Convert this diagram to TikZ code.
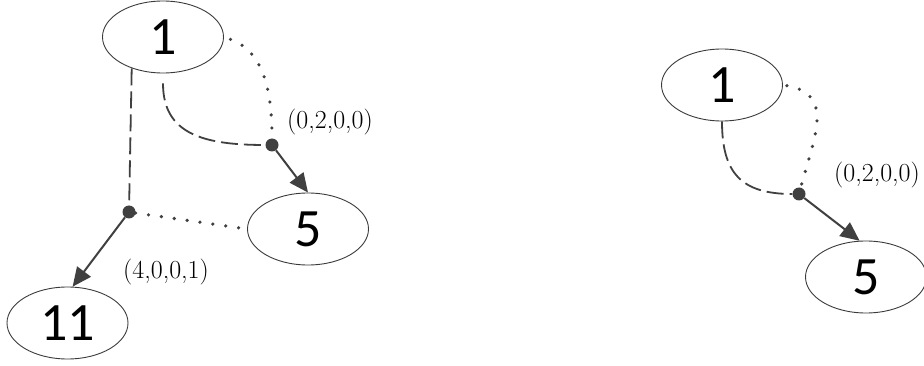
\documentclass[tikz,border=0pt]{standalone}
\usepackage{fontspec}
\newfontfamily\numfont{Carlito}
\usetikzlibrary{arrows.meta,shapes.geometric}
\definecolor{edgegray}{HTML}{404040}
\definecolor{outline}{HTML}{3A3A3A}
\begin{document}
\begin{tikzpicture}[x=1pt,y=-1pt,
  state/.style={draw=outline, line width=0.9pt, ellipse, inner sep=0pt,
    minimum width=121pt, minimum height=72pt,
    font=\numfont\fontsize{54}{54}\selectfont},
  junction/.style={circle, fill=edgegray, inner sep=0pt, minimum size=13pt},
  lbl/.style={font=\fontsize{26}{26}\selectfont, inner sep=0pt},
  dashedge/.style={draw=edgegray, line width=1.8pt, dash pattern=on 17pt off 6pt},
  dotedge/.style={draw=edgegray, line width=3.6pt, line cap=round, dash pattern=on 0pt off 13pt},
  arr/.style={draw=edgegray, line width=2pt, -{Triangle[length=19pt,width=17pt]}}]
\useasboundingbox (0,0) rectangle (924,366);
% left diagram
\node[state] (a1) at (163,37) {1};
\node[state] (a5) at (308,229) {5};
\node[state] (a11) at (67.5,323) {11};
\node[junction] (d1) at (272,145) {};
\node[junction] (d2) at (129,212) {};
\node[lbl] (l1) at (330,122) {(0,2,0,0)};
\node[lbl] (l2) at (166,272) {(4,0,0,1)};
\draw[dashedge] (a1.225) -- (d2);
\draw[dashedge, shorten <=10pt] (a1.south) to[out=-90,in=180,looseness=1.25] (d1);
\draw[dotedge, shorten <=7pt] (a1.east) to[out=-20,in=90] (d1);
\draw[arr] (d1) -- (a5.north);
\draw[dotedge] (d2) -- (a5.west);
\draw[arr] (d2) -- (a11.82);
% right diagram
\node[state] (b1) at (722,85) {1};
\node[state] (b5) at (866,277) {5};
\node[junction] (d3) at (799,194) {};
\node[lbl] (l3) at (877,175) {(0,2,0,0)};
\draw[dashedge] (b1.south) to[out=-90,in=180,looseness=1.3] (d3);
\draw[dotedge, shorten <=4pt] (b1.east) to[out=-10,in=75,looseness=1.3] (d3);
\draw[arr] (d3) -- (b5.100);
\end{tikzpicture}
\end{document}
